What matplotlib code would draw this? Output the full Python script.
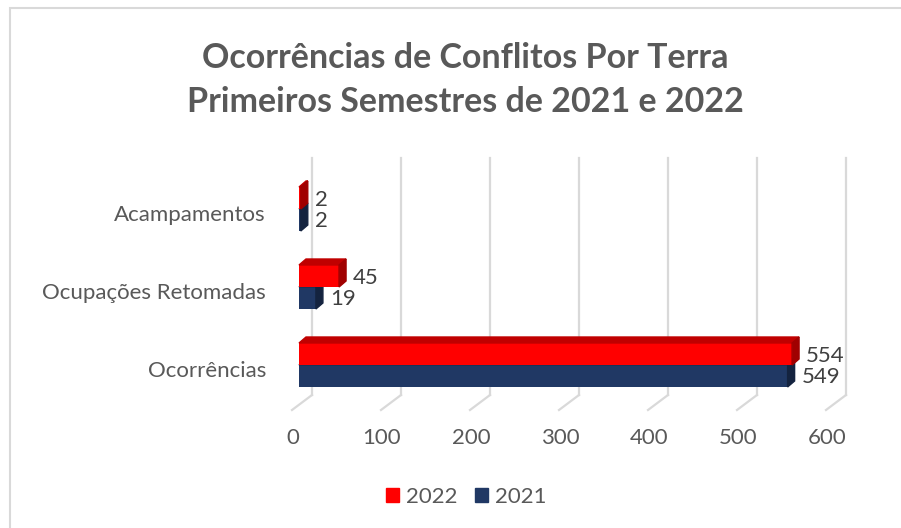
import matplotlib.pyplot as plt
from matplotlib.patches import Polygon, Rectangle

categories = ['Ocorrências', 'Ocupações Retomadas', 'Acampamentos']
v2022 = [554, 45, 2]
v2021 = [549, 19, 2]
ticks = [0, 100, 200, 300, 400, 500, 600]

RED, RED_TOP, RED_SIDE = '#FF0000', '#C00000', '#A00000'
BLUE, BLUE_TOP, BLUE_SIDE = '#203864', '#1A2E52', '#14233F'
GRID = '#D9D9D9'
TXT = '#595959'
FONT = 'Lato'
FS = 16

W, H = 901, 528
fig = plt.figure(figsize=(W / 100, H / 100), dpi=100)
fig.patch.set_facecolor('white')

# chart border
fig.patches.append(Rectangle((10 / W, -0.1), 1.2, (H - 8) / H + 0.1, fill=False,
                             edgecolor=GRID, lw=1.5, transform=fig.transFigure))

# axes = front plane of the bars
ax_px = (299, 404, 534, 234)  # left, bottom(from top), width, height in pixels
ax = fig.add_axes([ax_px[0] / W, (H - ax_px[1]) / H, ax_px[2] / W, ax_px[3] / H])
ax.set_xlim(0, 600)
ax.set_ylim(-0.5, 2.5)
ax.axis('off')

ux = 600 / ax_px[2]   # data units per pixel (x)
uy = 3 / ax_px[3]     # data units per pixel (y)

# back wall + floor gridlines
for t in ticks:
    xb = t + 13 * ux
    ax.plot([xb, xb], [-0.5 + 9 * uy, -0.5 + 246 * uy], color=GRID, lw=1.6,
            clip_on=False, zorder=0)
    ax.plot([xb, t - 7 * ux], [-0.5 + 9 * uy, -0.5 - 6 * uy], color=GRID, lw=1.6,
            clip_on=False, zorder=0)
    ax.text(t - 6 * ux, -0.5 - 34 * uy, str(t), ha='center', va='center',
            fontsize=FS, color=TXT, family=FONT)

h = 22 * uy
dx, dy = 7 * ux, 6 * uy


def bar3d(vals, offset, front, top, side, z):
    ys = [i + offset for i in range(len(vals))]
    ax.barh(ys, vals, height=h, align='edge', color=front, zorder=z, clip_on=False)
    for y, v in zip(ys, vals):
        ax.add_patch(Polygon([(0, y + h), (v, y + h), (v + dx, y + h + dy), (dx, y + h + dy)],
                             closed=True, color=top, zorder=z, clip_on=False))
        ax.add_patch(Polygon([(v, y), (v, y + h), (v + dx, y + h + dy), (v + dx, y + dy)],
                             closed=True, color=side, zorder=z, clip_on=False))
    return ys


yb = bar3d(v2021, -h, BLUE, BLUE_TOP, BLUE_SIDE, 2)
yr = bar3d(v2022, 0, RED, RED_TOP, RED_SIDE, 3)

for y, v in zip(yr, v2022):
    ax.text(v + 14 * ux, y + h / 2 - 2 * uy, str(v), ha='left', va='center',
            fontsize=FS, color='#404040', family=FONT, zorder=5)
for y, v in zip(yb, v2021):
    ax.text(v + 14 * ux, y + h / 2 - 1 * uy, str(v), ha='left', va='center',
            fontsize=FS, color='#404040', family=FONT, zorder=5)

for i, c in enumerate(categories):
    ax.text(-33 * ux, i - 6 * uy, c, ha='right', va='center',
            fontsize=FS, color=TXT, family=FONT)

fig.text(465 / W, 1 - 58 / H, 'Ocorrências de Conflitos Por Terra', ha='center', va='center',
         fontsize=24.5, fontweight='bold', color=TXT, family=FONT)
fig.text(465 / W, 1 - 102 / H, 'Primeiros Semestres de 2021 e 2022', ha='center', va='center',
         fontsize=24.5, fontweight='bold', color=TXT, family=FONT)

# legend
handles = [Rectangle((0, 0), 1, 1, color=RED), Rectangle((0, 0), 1, 1, color=BLUE)]
fig.legend(handles, ['2022', '2021'], loc='center', bbox_to_anchor=(466 / W, 1 - 497 / H),
           ncol=2, frameon=False, handlelength=0.6, handleheight=0.6, handletextpad=0.3,
           columnspacing=0.8, prop={'family': FONT, 'size': FS}, labelcolor=TXT)

fig.savefig('out.png', dpi=100, facecolor='white')
